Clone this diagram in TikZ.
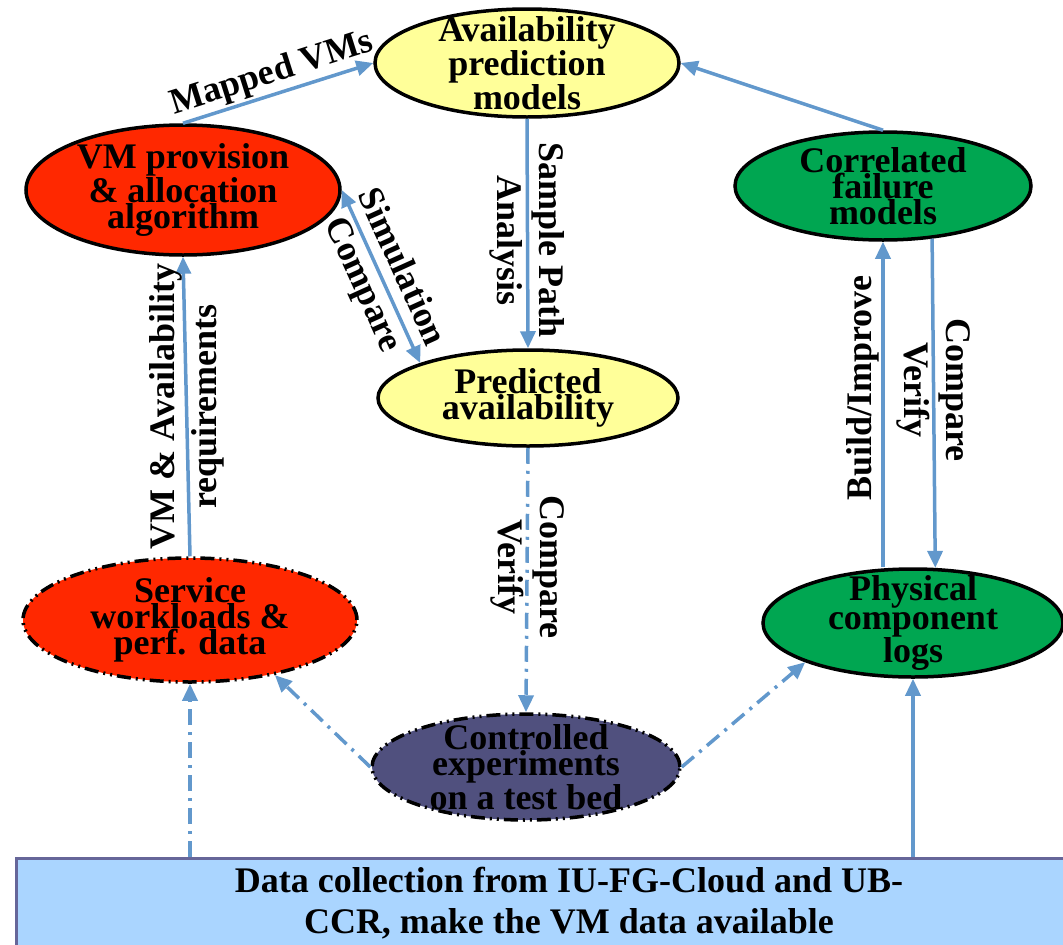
\documentclass[tikz,border=0pt]{standalone}
\usepackage{fontspec}
\setmainfont{Liberation Serif}
\usetikzlibrary{shapes.geometric,arrows.meta}
\definecolor{availyellow}{RGB}{255,255,153}
\definecolor{algred}{RGB}{255,40,0}
\definecolor{failgreen}{RGB}{0,166,81}
\definecolor{testbed}{RGB}{80,80,126}
\definecolor{databg}{RGB}{170,213,255}
\definecolor{dataedge}{RGB}{102,102,153}
\definecolor{flow}{RGB}{98,152,204}
\tikzset{
  ell/.style={ellipse, draw=black, line width=3.5pt, inner sep=0pt},
  elltext/.style={font=\fontsize{36}{26}\selectfont\bfseries, align=center, inner sep=0pt},
  lbl/.style={font=\fontsize{36}{42}\selectfont\bfseries, align=center, inner sep=2pt},
  flowline/.style={draw=flow, line width=3.5pt, ->},
  dashdot/.style={dash pattern=on 16pt off 7pt on 3pt off 7pt},
  dashdotdot/.style={dash pattern=on 14pt off 5pt on 2pt off 5pt on 2pt off 5pt}
}

\begin{document}
\begin{tikzpicture}[x=1pt, y=-1pt, >={Triangle[length=17pt,width=15pt]}]
\useasboundingbox (0,0) rectangle (1063,945);
% models
\node[ell, fill=availyellow, minimum width=304pt, minimum height=108pt,
  label={[elltext]center:Availability\\prediction\\models}] (avail) at (527,63) {};
\node[ell, fill=algred, minimum width=314pt, minimum height=130pt,
  label={[elltext]center:VM provision\\\& allocation\\algorithm}] (vm) at (183,190) {};
\node[ell, fill=failgreen, minimum width=296pt, minimum height=108pt,
  label={[elltext]center:Correlated\\failure\\models}] (corr) at (883,186) {};
\node[ell, fill=availyellow, minimum width=300pt, minimum height=96pt,
  label={[elltext]center:Predicted\\availability}] (pred) at (528,398) {};
% data sources
\node[ell, dashdotdot, fill=algred, minimum width=334pt, minimum height=124pt,
  label={[elltext]center:Service\\workloads \&\\perf. data}] (serv) at (190,620) {};
\node[ell, fill=failgreen, minimum width=300pt, minimum height=108pt,
  label={[elltext]center:Physical\\component\\logs}] (phys) at (913,623) {};
\node[ell, dashdotdot, fill=testbed, minimum width=308pt, minimum height=106pt,
  label={[elltext]center:Controlled\\experiments\\on a test bed}] (ctrl) at (526,767) {};
\node[draw=dataedge, fill=databg, line width=3pt, anchor=north west, minimum width=1105pt,
  inner ysep=9pt, align=center, font=\fontsize{36}{41}\selectfont\bfseries] (data) at (15,857)
  {Data collection from IU-FG-Cloud and UB-\\CCR, make the VM data available};
% flows
\draw[flowline] (vm.north) -- node[lbl, midway, above, sloped] {Mapped VMs} (avail.west);
\draw[flowline] (corr.north) -- (avail.east);
\draw[flowline] (avail.south) -- node[lbl, pos=0.53, rotate=-90] {Sample Path\\Analysis} (pred.north);
\draw[flowline, <->] (vm.east) -- node[lbl, midway, sloped] {Simulation\\Compare} (pred.162);
\draw[flowline, dashdot] (pred.south) -- node[lbl, pos=0.45, rotate=-90] {Compare\\Verify} (ctrl.north);
\draw[flowline] (serv.north) -- node[lbl, midway, rotate=90] {VM \& Availability\\requirements} (vm.south);
\draw[flowline] (corr.south |- phys.north) -- node[lbl, pos=0.55, rotate=90, anchor=south] {Build/Improve} (corr.south);
\draw[flowline] (corr.-47) -- node[lbl, pos=0.46, rotate=-90] {Compare\\Verify} (phys.68);
\draw[flowline, dashdot] (ctrl.west) -- (serv.-33);
\draw[flowline, dashdot] (ctrl.east) -- (phys.-160);
\draw[flowline, dashdot] (serv.south |- data.north) -- (serv.south);
\draw[flowline] (phys.south |- data.north) -- (phys.south);
\end{tikzpicture}
\end{document}
